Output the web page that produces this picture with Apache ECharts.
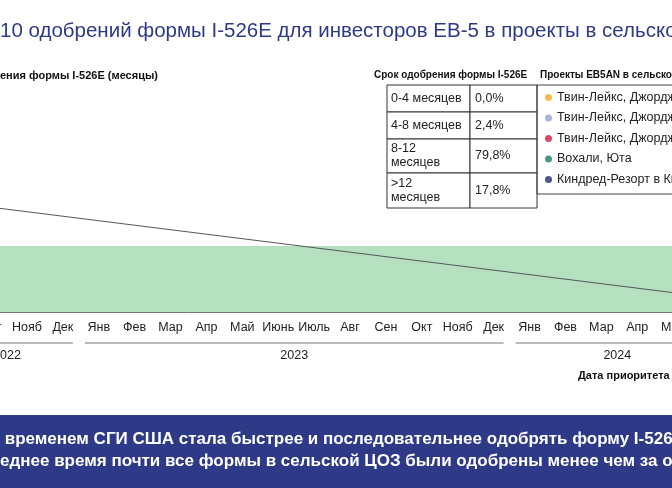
<!DOCTYPE html>
<html>
<head>
<meta charset="utf-8" />
<script src="https://cdn.jsdelivr.net/npm/echarts@6/dist/echarts.min.js"></script>
<style>html,body{margin:0;padding:0;background:#fff;overflow:hidden}</style>
</head>
<body>
<div id="main" style="width:1100px;height:488px;margin-left:-350px;"></div>
<script type="text/javascript">
var FONT = '"Liberation Sans", Arial, sans-serif';
var OFF = 350; // chart canvas starts 350px left of the window
// months Jan 2022 .. Jun 2024
var monthNames = ['Янв','Фев','Мар','Апр','Май','Июнь','Июль','Авг','Сен','Окт','Нояб','Дек'];
var months = [];
for (var y = 0; y < 3; y++) monthNames.forEach(function (m, i) { if (y < 2 || i < 6) months.push(m); });
// year, first month index shown, last month index
var years = [['2022', 8, 11], ['2023', 12, 23], ['2024', 24, 29]];
var trend = [[0, 16.8], [29, 8.9]];
var bandRange = [8, 12];
var tableRows = [['0-4 месяцев', '0,0%'], ['4-8 месяцев', '2,4%'], ['8-12\nмесяцев', '79,8%'], ['>12\nмесяцев', '17,8%']];
var projects = ['Твин-Лейкс, Джорджия I', 'Твин-Лейкс, Джорджия II', 'Твин-Лейкс, Джорджия III', 'Вохали, Юта', 'Киндред-Резорт в Кингстоне'];
var projectColors = ['#f5a623', '#8ea2d6', '#d71c3b', '#1b7f6c', '#1f2a78'];

var myChart = echarts.init(document.getElementById('main'));
var series = [{
  type: 'line', data: trend, symbol: 'none', z: 5,
  lineStyle: {color: '#555', width: 1},
  markArea: {silent: true, itemStyle: {color: '#b6e1c0'}, data: [[{yAxis: bandRange[0]}, {yAxis: bandRange[1]}]]}
}];
projects.forEach(function (p, i) {
  series.push({name: p, type: 'scatter', data: [], itemStyle: {color: projectColors[i]}});
});

var option = {
  animation: false,
  textStyle: {fontFamily: FONT},
  grid: {left: 0, width: 30 * 35.9, top: 48, height: 264},
  xAxis: [{
    type: 'category', data: months, boundaryGap: true,
    axisLine: {lineStyle: {color: '#777'}},
    axisTick: {alignWithLabel: true, length: 5, interval: 0, lineStyle: {color: '#777'}},
    axisLabel: {color: '#222', fontSize: 12.5, margin: 9, interval: 0, fontFamily: FONT}
  }],
  yAxis: {type: 'value', min: 8, max: 24, show: false},
  legend: {
    orient: 'vertical', left: 537 + OFF, top: 85, padding: [6, 8, 8, 8], itemGap: 7.5,
    borderColor: '#444', borderWidth: 1, icon: 'circle', itemWidth: 7, itemHeight: 7,
    textStyle: {fontSize: 12.5, color: '#222', fontFamily: FONT},
    data: projects
  },
  series: series
};
myChart.setOption(option);

// decorations: titles, year brackets, table, banner
var g = [];
function txt(x, y, s, size, color, bold) {
  g.push({type: 'text', left: x + OFF, top: y, style: {text: s, fontSize: size, fill: color, fontWeight: bold ? 'bold' : 'normal', fontFamily: FONT}});
}
txt(0, 21, '10 одобрений формы I-526E для инвесторов EB-5 в проекты в сельской ЦОЗ', 20.5, '#2e3a87', false);
txt(0, 70, 'ения формы I-526E (месяцы)', 11, '#111', true);
txt(374, 70, 'Срок одобрения формы I-526E', 10, '#111', true);
txt(540, 70, 'Проекты EB5AN в сельской ЦОЗ', 10, '#111', true);
years.forEach(function (yr) {
  var x0 = myChart.convertToPixel({xAxisIndex: 0}, yr[1]) - 14;
  var x1 = myChart.convertToPixel({xAxisIndex: 0}, yr[2]) + 10;
  g.push({type: 'line', shape: {x1: x0, y1: 343, x2: x1, y2: 343}, style: {stroke: '#777', lineWidth: 1}});
  g.push({type: 'text', x: (x0 + x1) / 2, y: 349, style: {text: yr[0], fontSize: 12.5, fill: '#222', fontFamily: FONT, textAlign: 'center'}});
});
txt(578, 370, 'Дата приоритета', 11, '#111', true);
var rowY = [85, 112, 139, 173, 208];
tableRows.forEach(function (r, i) {
  var h = rowY[i + 1] - rowY[i], mid = (rowY[i] + rowY[i + 1]) / 2;
  g.push({type: 'rect', shape: {x: 387 + OFF, y: rowY[i], width: 83, height: h}, style: {fill: '#fff', stroke: '#333', lineWidth: 1}});
  g.push({type: 'rect', shape: {x: 470 + OFF, y: rowY[i], width: 67, height: h}, style: {fill: '#fff', stroke: '#333', lineWidth: 1}});
  g.push({type: 'text', x: 391 + OFF, y: mid, style: {text: r[0], fontSize: 12.5, fill: '#222', fontFamily: FONT, textVerticalAlign: 'middle', lineHeight: 14}});
  g.push({type: 'text', x: 475 + OFF, y: mid, style: {text: r[1], fontSize: 12.5, fill: '#222', fontFamily: FONT, textVerticalAlign: 'middle'}});
});
g.push({type: 'rect', shape: {x: OFF, y: 415, width: 672, height: 73}, style: {fill: '#2e3a87'}});
txt(0, 431, ' временем СГИ США стала быстрее и последовательнее одобрять форму I-526E', 17, '#fff', true);
txt(0, 453, 'еднее время почти все формы в сельской ЦОЗ были одобрены менее чем за один год', 17, '#fff', true);
myChart.setOption({graphic: g});
</script>
</body>
</html>
